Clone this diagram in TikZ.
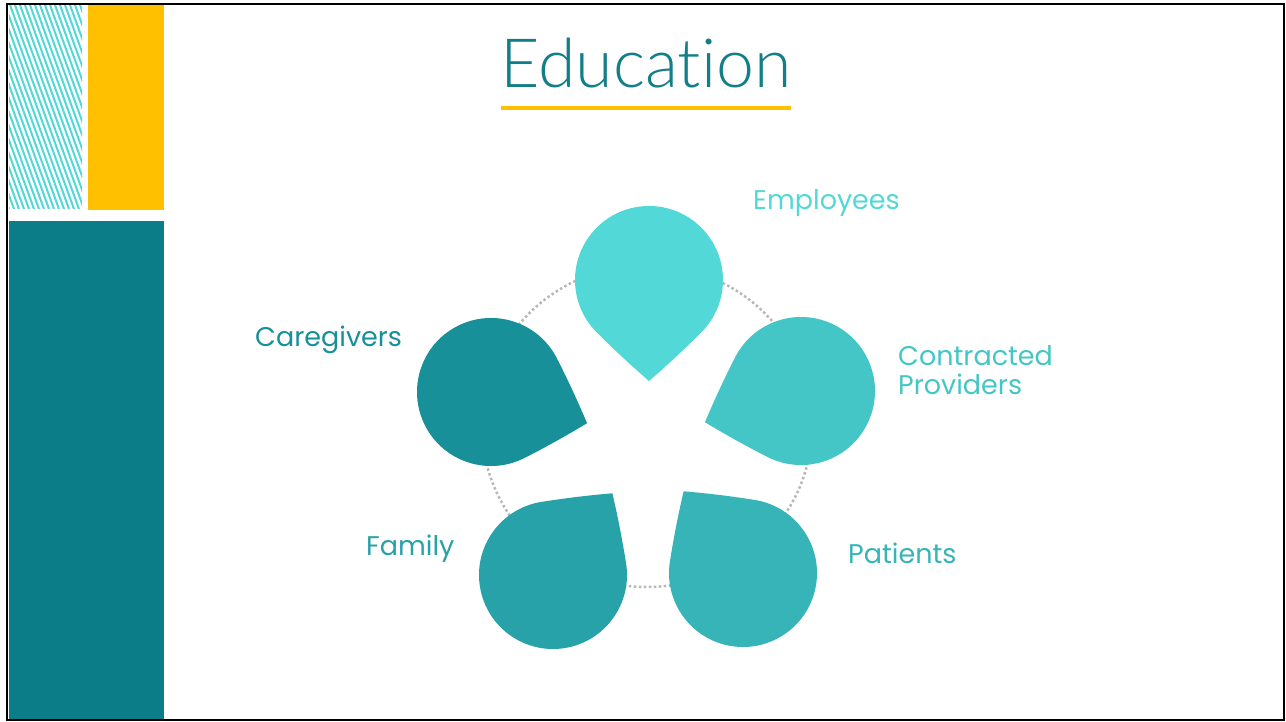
\documentclass[tikz,border=0pt]{standalone}
\usepackage{fontspec}
\setmainfont{Poppins}
\IfFontExistsTF{Lato Light}{\newfontfamily\titlefont[Ligatures=NoCommon]{Lato Light}}{\newfontfamily\titlefont[Ligatures=NoCommon]{Lato}}
\usetikzlibrary{calc}
\definecolor{empc}{HTML}{52D8D7}
\definecolor{conc}{HTML}{45C6C6}
\definecolor{patc}{HTML}{36B4B8}
\definecolor{famc}{HTML}{27A2A9}
\definecolor{carc}{HTML}{18909A}
\definecolor{darkteal}{HTML}{0B7D88}
\definecolor{titlec}{HTML}{117E88}
\definecolor{goldc}{HTML}{FFC000}
\definecolor{dotc}{HTML}{B8B8B8}
\tikzset{
  petal/.pic={
    \fill[pic actions] (-74,0) arc[start angle=180,end angle=90,radius=74]
      .. controls (23.80,74) and (47.61,73.14) .. (71.41,71.41)
      .. controls (73.14,47.61) and (74,23.80) .. (74,0)
      arc[start angle=0,end angle=-180,radius=74] -- cycle;
  },
  lbl/.style={inner sep=0pt, anchor=base west, font=\fontsize{27}{29.4}\selectfont, align=left},
  hatchline/.style={draw=empc, line width=2pt}
}
\begin{document}
\begin{tikzpicture}[x=1pt,y=1pt]
\useasboundingbox (0,0) rectangle (1286,721);
\fill[white] (0,0) rectangle (1286,721);
% left panels
\begin{scope}
  \clip (9,512) rectangle (82,716);
  \foreach \i in {-90,-85,...,100} {
    \draw[hatchline] (\i,716) -- ++(74,-204);
  }
\end{scope}
\fill[goldc] (88,511) rectangle (164,716);
\fill[darkteal] (9,0) rectangle (164,500);
% frame
\draw[black, line width=2.5pt] (7,1) rectangle (1284,717);
% title
\node[inner sep=0pt, anchor=base, text=titlec, font=\titlefont\fontsize{68}{70}\selectfont] (title) at (646,633) {Education};
\fill[goldc] (501,611) rectangle (791,615);
% dotted ring
\draw[dotc, line width=2.5pt, dash pattern=on 2.5pt off 2.5pt] (647,295) ellipse [x radius=165, y radius=161];
% petals
\pic[fill=empc, rotate=225] (pemp) at (649,441) {petal};
\pic[fill=carc, rotate=297] (pcar) at (491,329) {petal};
\pic[fill=famc, rotate=9] (pfam) at (553,146) {petal};
\pic[fill=patc, rotate=81] (ppat) at (743,148) {petal};
\pic[fill=conc, rotate=153] (pcon) at (801,330) {petal};
% labels
\node[lbl, text=empc] (lemp) at (753,511) {Employees};
\node[lbl, text=carc] (lcar) at (255,374) {Caregivers};
\node[lbl, text=conc] (lcon) at (898,326.3) {Contracted\\Providers};
\node[lbl, text=famc] (lfam) at (366,165) {Family};
\node[lbl, text=patc] (lpat) at (848,157.7) {Patients};
\end{tikzpicture}
\end{document}
